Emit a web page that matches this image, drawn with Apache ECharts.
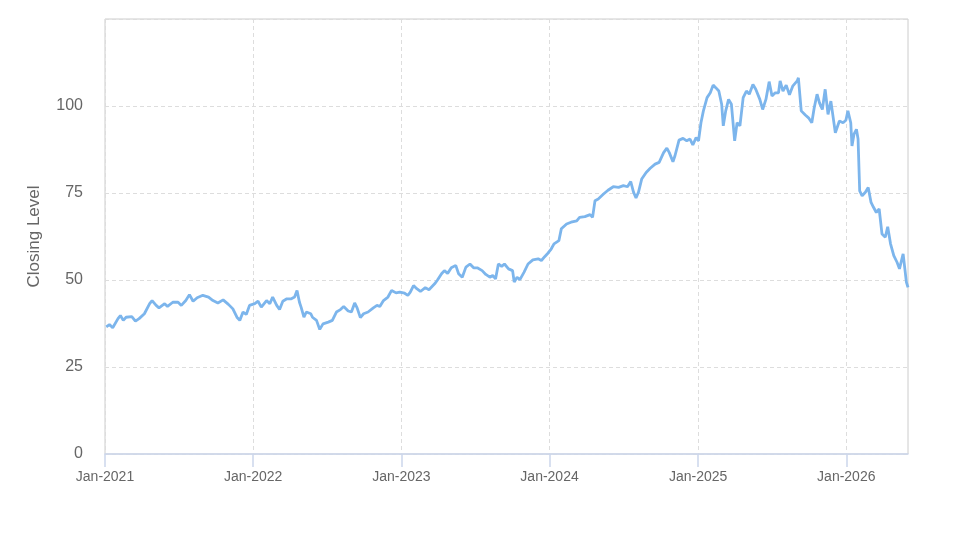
<!DOCTYPE html>
<html>
<head>
<meta charset="utf-8">
<script src="https://cdn.jsdelivr.net/npm/echarts@6/dist/echarts.min.js"></script>
<style>
html,body{margin:0;padding:0;background:#fff;}
#chart{width:973px;height:547px;}
</style>
</head>
<body>
<div id="chart"></div>
<script>
const dates = [
'2021-01-04','2021-01-12','2021-01-20','2021-02-02','2021-02-08','2021-02-15','2021-02-22','2021-03-08','2021-03-17','2021-03-26',
'2021-04-08','2021-04-21','2021-04-27','2021-05-07','2021-05-14','2021-05-28','2021-06-04','2021-06-17','2021-06-30','2021-07-08',
'2021-07-19','2021-07-28','2021-08-06','2021-08-16','2021-08-30','2021-09-13','2021-09-24','2021-10-06','2021-10-19','2021-11-01',
'2021-11-12','2021-11-22','2021-11-29','2021-12-07','2021-12-15','2021-12-23','2022-01-05','2022-01-13','2022-01-21','2022-02-03',
'2022-02-11','2022-02-18','2022-02-28','2022-03-07','2022-03-15','2022-03-25','2022-04-05','2022-04-13','2022-04-19','2022-04-25',
'2022-04-29','2022-05-06','2022-05-12','2022-05-23','2022-05-27','2022-06-06','2022-06-14','2022-06-22','2022-07-05','2022-07-08',
'2022-07-15','2022-07-25','2022-08-04','2022-08-12','2022-08-23','2022-08-31','2022-09-08','2022-09-14','2022-09-22','2022-09-30',
'2022-10-11','2022-10-24','2022-11-02','2022-11-09','2022-11-18','2022-11-29','2022-12-08','2022-12-19','2022-12-28','2023-01-09',
'2023-01-17','2023-01-23','2023-01-31','2023-02-08','2023-02-17','2023-03-01','2023-03-10','2023-03-24','2023-03-31','2023-04-10',
'2023-04-17','2023-04-25','2023-05-04','2023-05-15','2023-05-22','2023-05-31','2023-06-09','2023-06-19','2023-06-28','2023-07-07',
'2023-07-19','2023-07-28','2023-08-07','2023-08-14','2023-08-21','2023-08-28','2023-09-05','2023-09-12','2023-09-22','2023-10-02',
'2023-10-06','2023-10-13','2023-10-20','2023-10-30','2023-11-09','2023-11-21','2023-12-04','2023-12-12','2023-12-20','2023-12-28',
'2024-01-05','2024-01-12','2024-01-24','2024-01-30','2024-02-12','2024-02-23','2024-03-08','2024-03-15','2024-03-28','2024-04-10',
'2024-04-16','2024-04-22','2024-04-30','2024-05-13','2024-05-24','2024-06-06','2024-06-19','2024-07-01','2024-07-11','2024-07-19',
'2024-07-26','2024-08-01','2024-08-07','2024-08-15','2024-08-26','2024-09-05','2024-09-17','2024-09-27','2024-10-08','2024-10-16',
'2024-10-22','2024-10-31','2024-11-05','2024-11-15','2024-11-25','2024-12-04','2024-12-12','2024-12-19','2024-12-27','2025-01-02',
'2025-01-08','2025-01-14','2025-01-23','2025-01-31','2025-02-07','2025-02-14','2025-02-21','2025-02-28','2025-03-04','2025-03-10',
'2025-03-17','2025-03-24','2025-04-01','2025-04-07','2025-04-14','2025-04-22','2025-04-30','2025-05-07','2025-05-16','2025-05-23',
'2025-06-02','2025-06-09','2025-06-17','2025-06-25','2025-07-02','2025-07-10','2025-07-18','2025-07-22','2025-07-29','2025-08-06',
'2025-08-14','2025-08-22','2025-09-02','2025-09-05','2025-09-12','2025-09-22','2025-09-30','2025-10-08','2025-10-14','2025-10-21',
'2025-10-27','2025-11-03','2025-11-10','2025-11-17','2025-11-24','2025-11-28','2025-12-05','2025-12-15','2025-12-24','2025-12-31',
'2026-01-05','2026-01-12','2026-01-15','2026-01-20','2026-01-26','2026-01-30','2026-02-03','2026-02-09','2026-02-17','2026-02-24',
'2026-03-03','2026-03-09','2026-03-16','2026-03-23','2026-03-30','2026-04-07','2026-04-13','2026-04-20','2026-04-28','2026-05-06',
'2026-05-12','2026-05-21','2026-05-22','2026-05-29','2026-06-02'
];
const closing = [
36.5,37.2,36.3,38.9,39.8,38.4,39.3,39.5,38.2,38.9,
40.3,43.2,44.1,42.7,42.0,43.2,42.4,43.6,43.6,42.7,
44.1,45.8,43.9,44.9,45.6,45.1,44.1,43.4,44.3,43.0,
41.7,39.3,38.4,40.8,40.1,42.7,43.2,43.9,42.2,44.1,
43.2,45.1,42.7,41.5,43.9,44.6,44.6,45.1,47.0,43.6,
42.2,39.3,40.8,40.3,39.3,38.4,35.8,37.4,37.9,37.6,
38.4,40.8,41.5,42.4,41.1,40.8,43.4,42.0,39.2,40.3,
40.8,42.0,42.7,42.4,44.1,45.1,47.0,46.3,46.5,46.2,
45.6,46.5,48.4,47.5,46.7,47.8,47.2,48.9,50.0,51.8,
52.7,51.9,53.5,54.2,51.8,50.8,53.7,54.6,53.5,53.5,
52.7,51.6,50.8,51.3,50.3,54.6,53.9,54.6,53.2,52.7,
49.4,50.8,50.1,52.2,54.6,55.8,56.1,55.6,56.7,57.7,
58.9,60.4,61.3,64.7,66.1,66.6,67.0,68.0,68.2,68.8,
68.0,72.8,73.3,74.7,75.8,76.8,76.6,77.1,76.8,78.3,
75.2,73.6,75.2,79.0,80.9,82.1,83.3,83.8,86.6,87.9,
86.6,84.0,85.7,90.2,90.7,90.0,90.5,88.8,90.9,90.0,
95.2,98.6,102.4,103.8,106.0,105.2,104.3,100.5,94.3,98.6,
101.9,100.5,90.0,95.2,94.3,102.4,104.3,103.4,106.2,104.8,
101.9,99.0,101.9,107.0,102.9,103.8,103.8,107.2,104.3,106.0,
103.2,105.7,107.2,108.1,98.6,97.4,96.6,95.2,99.5,103.4,
100.9,99.0,104.8,97.6,101.4,98.1,92.3,95.7,95.2,95.9,
98.6,95.2,88.5,91.9,93.3,90.5,75.6,74.2,75.2,76.6,
72.3,70.9,69.4,70.4,63.2,62.3,65.3,60.4,57.0,55.1,
53.2,57.5,56.5,49.4,47.9
];
const yearTicks = ['2021-01-01','2022-01-01','2023-01-01','2024-01-01','2025-01-01','2026-01-01'];
const yTicks = [0,25,50,75,100];
const yTitle = 'Closing Level';

const MONTHS = ['Jan','Feb','Mar','Apr','May','Jun','Jul','Aug','Sep','Oct','Nov','Dec'];
const toTs = s => Date.parse(s + 'T00:00:00Z');
const tickTs = yearTicks.map(toTs);
const seriesData = dates.map((d,i) => [toTs(d), closing[i]]);
const textColor = '#666666';
const font = '"Liberation Sans", Arial, sans-serif';

const chart = echarts.init(document.getElementById('chart'), null, {renderer:'canvas'});
chart.setOption({
  animation: false,
  backgroundColor: '#ffffff',
  grid: {left:105, right:65, top:19, bottom:93, show:true, borderColor:'#cccccc', borderWidth:1, containLabel:false},
  xAxis: {
    type: 'value',
    min: tickTs[0],
    max: toTs(dates[dates.length-1]),
    axisLine: {show:true, onZero:false, lineStyle:{color:'#ccd6eb', width:1.5}},
    axisTick: {show:true, length:13, customValues: tickTs, lineStyle:{color:'#ccd6eb', width:1.5}},
    axisLabel: {show:true, customValues: tickTs, margin:16, color:textColor, fontSize:14, fontFamily:font,
      formatter: v => { const d = new Date(v); return MONTHS[d.getUTCMonth()] + '-' + d.getUTCFullYear(); }},
    splitLine: {show:true, lineStyle:{color:'#dddddd', type:[4,3], width:1}}
  },
  yAxis: {
    type: 'value',
    min: 0, max: 125, interval: 25,
    name: yTitle, nameLocation:'middle', nameGap:62, nameRotate:90,
    nameTextStyle:{color:textColor, fontSize:17, fontFamily:font},
    axisLine:{show:false}, axisTick:{show:false},
    axisLabel:{color:textColor, fontSize:16, fontFamily:font, margin:22,
      formatter: v => (yTicks.indexOf(v) >= 0 ? String(v) : '')},
    splitLine:{show:true, lineStyle:{color:'#dddddd', type:[4,3], width:1}}
  },
  series: [{
    type:'line', data: seriesData, showSymbol:false, symbol:'none',
    lineStyle:{color:'#7cb5ec', width:2.8}, itemStyle:{color:'#7cb5ec'}
  }]
});
</script>
</body>
</html>
